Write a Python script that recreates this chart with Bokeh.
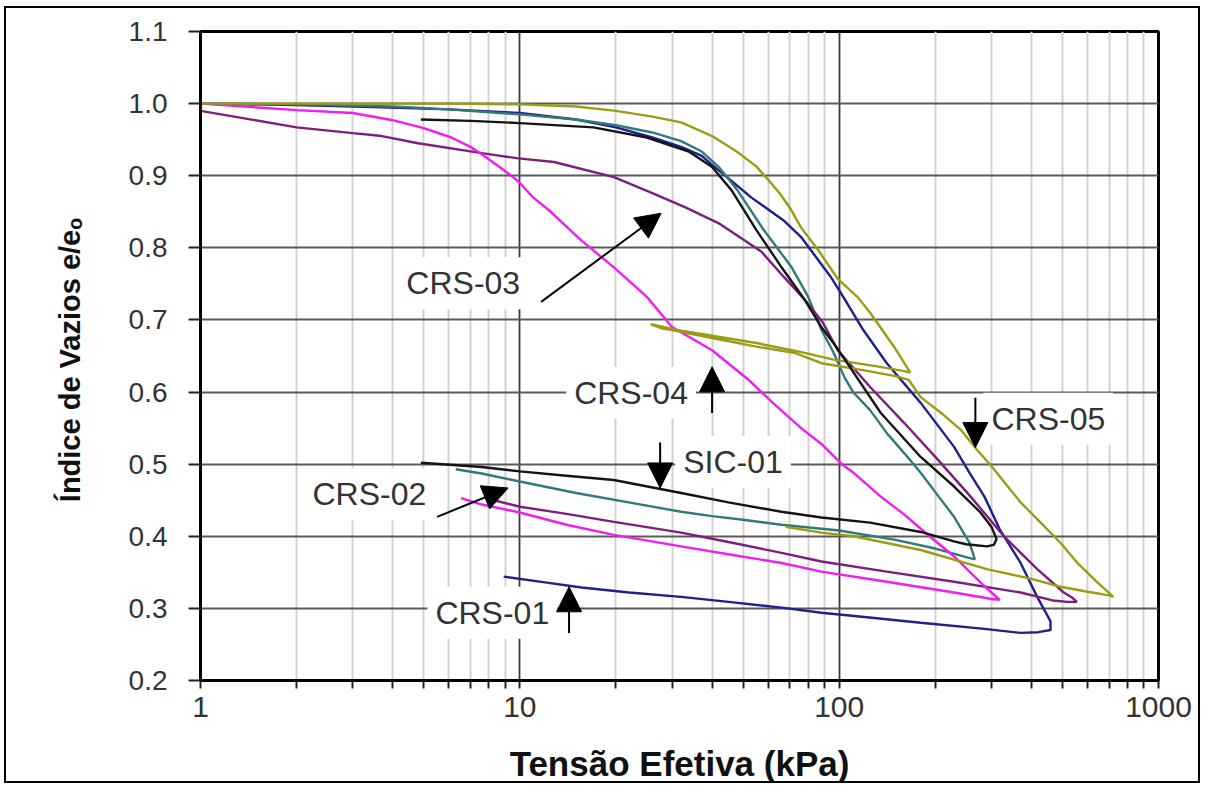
from bokeh.plotting import figure
from bokeh.models import FixedTicker, NumeralTickFormatter, Label, Arrow, NormalHead, Range1d
from bokeh.embed import file_html
from bokeh.resources import INLINE

# ---------------- data (tensão efetiva kPa, e/eo) ----------------
crs01_x = [1, 2, 3.7, 6, 10, 15, 20, 26, 32, 37, 40, 44, 53, 67, 76, 94, 103, 119, 141, 180, 229, 256,
           285, 318, 370, 417, 440, 459, 459, 420, 370, 280, 180, 120, 88, 66, 45, 32, 22, 15.6, 12, 8.9]
crs01_y = [1.0, 0.998, 0.995, 0.992, 0.987, 0.978, 0.967, 0.953, 0.94, 0.928, 0.915, 0.9, 0.87, 0.838, 0.815,
           0.76, 0.732, 0.686, 0.64, 0.585, 0.524, 0.488, 0.455, 0.41, 0.363, 0.316, 0.297, 0.282, 0.27,
           0.267, 0.266, 0.272, 0.28, 0.288, 0.294, 0.301, 0.309, 0.316, 0.322, 0.329, 0.336, 0.344]

crs02_x = [1, 2, 4, 6, 10, 15, 20, 26, 32, 37, 42, 48, 58, 71, 80, 88, 96, 104, 111, 125, 141, 160, 180,
           205, 229, 256, 266, 250, 200, 150, 100, 66, 50, 40, 32, 22.6, 15, 10, 7.6, 6.3]
crs02_y = [1.0, 0.999, 0.996, 0.992, 0.985, 0.978, 0.97, 0.96, 0.948, 0.934, 0.912, 0.88, 0.825, 0.773,
           0.732, 0.686, 0.655, 0.62, 0.599, 0.575, 0.543, 0.515, 0.488, 0.455, 0.427, 0.391, 0.368, 0.371,
           0.383, 0.395, 0.408, 0.416, 0.423, 0.428, 0.434, 0.446, 0.46, 0.476, 0.487, 0.493]

crs03_x = [1, 2, 3, 3.7, 4.8, 7.7, 9.9, 12.8, 19.7, 26, 33, 42, 57, 67, 78, 89, 99, 125, 160, 204, 258,
           328, 418, 505, 540, 555, 520, 466, 370, 229, 141, 88, 66, 45, 32, 19.7, 14, 10, 8.1]
crs03_y = [0.99, 0.967, 0.959, 0.955, 0.945, 0.931, 0.924, 0.919, 0.898, 0.876, 0.856, 0.834, 0.795, 0.76,
           0.728, 0.696, 0.658, 0.607, 0.557, 0.506, 0.455, 0.40, 0.354, 0.322, 0.314, 0.309, 0.309, 0.311,
           0.322, 0.337, 0.351, 0.365, 0.377, 0.392, 0.405, 0.42, 0.431, 0.441, 0.451]

crs04_x = [1, 2, 3, 4, 5, 6.1, 7, 7.7, 8.9, 9.9, 11, 12.5, 15.5, 19.7, 25, 30, 40, 52, 62, 76, 88, 102,
           111, 135, 160, 184, 229, 277, 300, 318, 300, 229, 141, 88, 66, 45, 32, 19.7, 14, 10, 7.6, 6.55]
crs04_y = [1.0, 0.991, 0.987, 0.977, 0.966, 0.953, 0.94, 0.928, 0.908, 0.892, 0.87, 0.85, 0.811, 0.773,
           0.732, 0.69, 0.658, 0.617, 0.585, 0.55, 0.528, 0.50, 0.488, 0.455, 0.43, 0.407, 0.372, 0.336,
           0.322, 0.312, 0.313, 0.322, 0.337, 0.351, 0.363, 0.375, 0.386, 0.402, 0.416, 0.433, 0.444, 0.453]

crs05_x = [1, 3, 6, 10, 15, 20, 26, 32, 40, 48, 55, 60, 65, 70, 76, 86, 99, 114, 125, 138, 150, 160, 167,
           160, 130, 96, 75, 55, 40, 31, 25.7,
           28, 30, 40, 55, 73, 88, 120, 150, 165, 180, 210, 240, 270, 300, 370, 430, 493, 560, 640, 722,
           700, 600, 493, 400, 292, 180, 111, 88, 68]
crs05_y = [1.0, 1.0, 1.0, 0.999, 0.996, 0.99, 0.982, 0.974, 0.955, 0.933, 0.913, 0.894, 0.876, 0.856, 0.828,
           0.797, 0.757, 0.732, 0.71, 0.683, 0.66, 0.64, 0.627,
           0.629, 0.636, 0.645, 0.656, 0.668, 0.678, 0.686, 0.694,
           0.688, 0.686, 0.675, 0.663, 0.654, 0.640, 0.630, 0.622, 0.617, 0.593, 0.57, 0.548, 0.52, 0.497,
           0.447, 0.418, 0.391, 0.362, 0.337, 0.316,
           0.318, 0.323, 0.330, 0.341, 0.354, 0.381, 0.400, 0.405, 0.413]

sic01_x = [4.9, 7, 10, 17, 25, 34, 40, 46, 55, 66, 78, 88, 96, 111, 135, 180, 229, 277, 300, 311, 305, 290,
           250, 229, 180, 125, 88, 66, 45, 32, 19.7, 14, 10, 7.6, 4.9]
sic01_y = [0.978, 0.976, 0.973, 0.967, 0.953, 0.933, 0.912, 0.88, 0.825, 0.773, 0.728, 0.69, 0.668, 0.627,
           0.571, 0.51, 0.469, 0.433, 0.413, 0.396, 0.388, 0.386, 0.389, 0.393, 0.406, 0.419, 0.426, 0.434,
           0.447, 0.46, 0.478, 0.484, 0.49, 0.496, 0.502]

series_names = ["CRS-01", "CRS-02", "CRS-03", "CRS-04", "CRS-05", "SIC-01"]
series_x = [crs01_x, crs02_x, crs03_x, crs04_x, crs05_x, sic01_x]
series_y = [crs01_y, crs02_y, crs03_y, crs04_y, crs05_y, sic01_y]
series_colors = ["#20208c", "#2f7b78", "#7d1e7d", "#f01cf0", "#9c9c14", "#141414"]

x_major = [1, 10, 100, 1000]
x_minor = [2, 3, 4, 5, 6, 7, 8, 9, 20, 30, 40, 50, 60, 70, 80, 90, 200, 300, 400, 500, 600, 700, 800, 900]
y_ticks = [0.2, 0.3, 0.4, 0.5, 0.6, 0.7, 0.8, 0.9, 1.0, 1.1]

# annotation labels and arrows (data coordinates)
ann_text = ["CRS-01", "CRS-02", "CRS-03", "CRS-04", "CRS-05", "SIC-01"]
ann_x = [8.2, 3.38, 6.65, 22.3, 452, 46.5]
ann_y = [0.294, 0.458, 0.751, 0.599, 0.563, 0.503]
arr_x0 = [14.26, 5.51, 11.66, 40, 267, 27.5]
arr_y0 = [0.266, 0.427, 0.725, 0.571, 0.592, 0.530]
arr_x1 = [14.26, 9.19, 27.7, 40, 267, 27.5]
arr_y1 = [0.330, 0.467, 0.848, 0.635, 0.523, 0.467]

# ---------------- figure ----------------
p = figure(width=1196, height=777, x_axis_type="log",
           x_range=Range1d(1, 1000), y_range=Range1d(0.2, 1.1),
           output_backend="svg", toolbar_location=None,
           min_border_left=194, min_border_right=44, min_border_top=23, min_border_bottom=104)
p.styles = {"border": "2px solid black", "margin-left": "4px", "margin-top": "6px"}
p.background_fill_color = "white"
p.border_fill_color = "white"
p.outline_line_color = "black"
p.outline_line_width = 3

p.xaxis.ticker = FixedTicker(ticks=x_major, minor_ticks=x_minor)
p.xaxis.formatter = NumeralTickFormatter(format="0")
p.yaxis.ticker = FixedTicker(ticks=y_ticks)
p.yaxis.formatter = NumeralTickFormatter(format="0.0")

for ax in (p.xaxis, p.yaxis):
    ax.axis_line_color = "black"
    ax.axis_line_width = 3
    ax.major_tick_in = 0
    ax.major_tick_line_color = "#222222"
    ax.major_tick_line_width = 2
    ax.major_label_text_font = "Liberation Sans"
    ax.major_label_text_color = "#333333"
    ax.axis_label_text_font = "Liberation Sans"
    ax.axis_label_text_font_style = "bold"
    ax.axis_label_text_color = "#111111"

p.xaxis.major_tick_out = 8
p.xaxis.minor_tick_out = 8
p.xaxis.minor_tick_in = 0
p.xaxis.minor_tick_line_color = "#222222"
p.xaxis.minor_tick_line_width = 2
p.xaxis.major_label_text_font_size = "30px"
p.xaxis.major_label_standoff = 8
p.xaxis.axis_label = "Tensão Efetiva (kPa)"
p.xaxis.axis_label_text_font_size = "35px"
p.xaxis.axis_label_standoff = 24

p.yaxis.major_tick_out = 12
p.yaxis.minor_tick_line_color = None
p.yaxis.major_label_text_font_size = "28px"
p.yaxis.major_label_standoff = 21
p.yaxis.axis_label = "Índice de Vazios  e/eₒ"
p.yaxis.axis_label_text_font_size = "29px"
p.yaxis.axis_label_standoff = 40

p.xgrid.grid_line_color = "#3a3a3a"
p.xgrid.grid_line_width = 1.8
p.xgrid.minor_grid_line_color = "#d2d2d2"
p.xgrid.minor_grid_line_width = 2
p.ygrid.grid_line_color = "#5a5a5a"
p.ygrid.grid_line_width = 2

for xs, ys, c in zip(series_x, series_y, series_colors):
    p.line(xs, ys, line_color=c, line_width=2.4)

for t, x, y in zip(ann_text, ann_x, ann_y):
    p.add_layout(Label(x=x, y=y, text=t, text_align="center", text_baseline="middle",
                       text_font="Liberation Sans", text_font_size="32px", text_color="#333333",
                       background_fill_color="white", padding=8, level="underlay"))

for x0, y0, x1, y1 in zip(arr_x0, arr_y0, arr_x1, arr_y1):
    p.add_layout(Arrow(x_start=x0, y_start=y0, x_end=x1, y_end=y1, line_color="black", line_width=2,
                       end=NormalHead(size=25, fill_color="black", line_color="black")))

open("out.html", "w").write(file_html(p, INLINE))
